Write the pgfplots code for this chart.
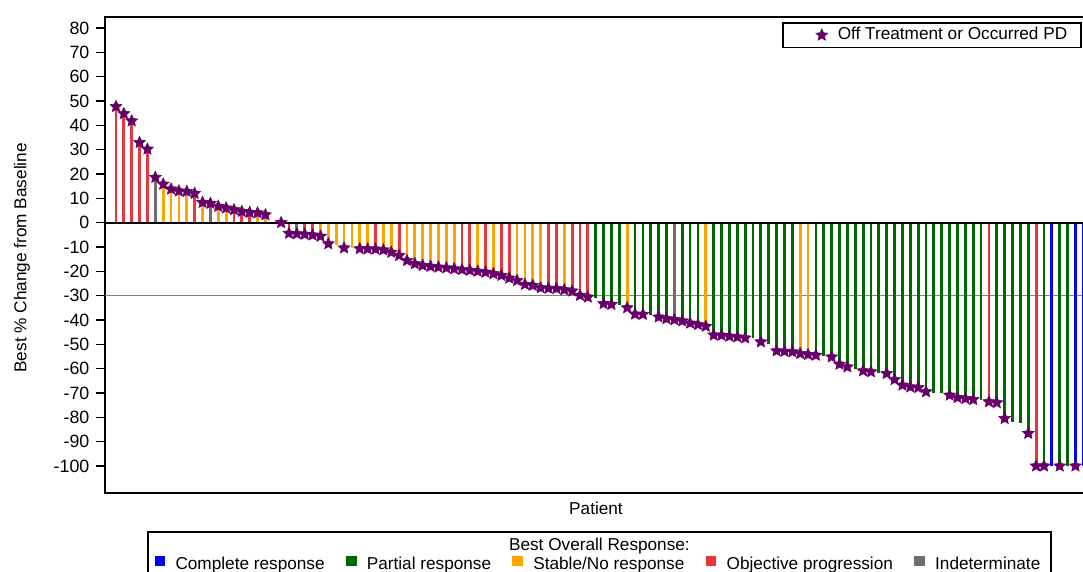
\documentclass[border=0pt]{standalone}
\usepackage{fontspec}
\setmainfont{Liberation Sans}
\usepackage{pgfplots}
\pgfplotsset{compat=1.18}

\definecolor{cBlue}{HTML}{0000FF}
\definecolor{cGreen}{HTML}{006600}
\definecolor{cOrange}{HTML}{FFA500}
\definecolor{cRed}{HTML}{E8373C}
\definecolor{cGray}{HTML}{6E6E6E}
\definecolor{cStar}{HTML}{660066}

\pgfdeclareplotmark{fstar}{%
 \pgfpathmoveto{\pgfqpointpolar{90}{\pgfplotmarksize}}%
 \pgfpathlineto{\pgfqpointpolar{126}{0.47\pgfplotmarksize}}%
 \pgfpathlineto{\pgfqpointpolar{162}{\pgfplotmarksize}}%
 \pgfpathlineto{\pgfqpointpolar{198}{0.47\pgfplotmarksize}}%
 \pgfpathlineto{\pgfqpointpolar{234}{\pgfplotmarksize}}%
 \pgfpathlineto{\pgfqpointpolar{270}{0.47\pgfplotmarksize}}%
 \pgfpathlineto{\pgfqpointpolar{306}{\pgfplotmarksize}}%
 \pgfpathlineto{\pgfqpointpolar{342}{0.47\pgfplotmarksize}}%
 \pgfpathlineto{\pgfqpointpolar{18}{\pgfplotmarksize}}%
 \pgfpathlineto{\pgfqpointpolar{54}{0.47\pgfplotmarksize}}%
 \pgfpathclose
 \pgfusepathqfillstroke}

\newcommand{\chfont}{\fontsize{8.6}{10}\selectfont}

\begin{document}
\begin{tikzpicture}
\begin{axis}[
 scale only axis, width=491pt, height=238pt,
 xmin=-1.4, xmax=123.47, ymin=-111.1, ymax=84.5,
 xtick=\empty,
 ytick={-100,-90,...,80},
 ytick pos=left, tick align=outside, major tick length=4.3pt,
 axis line style={line width=1.2pt},
 every tick/.style={black, line width=0.6pt},
 /pgf/number format/assume math mode=true,
 tick label style={font=\fontsize{8.9}{10}\selectfont},
 ylabel={Best \% Change from Baseline},
 xlabel={Patient},
 label style={font=\chfont},
 ylabel style={at={(axis description cs:-0.0845,0.494)}, anchor=center},
 xlabel style={at={(axis description cs:0.5,-0.0315)}, anchor=center},
 legend columns=5,
 legend image code/.code={\fill[#1] (0pt,-0.3pt) rectangle (4.4pt,4.1pt);},
 legend style={at={(axis description cs:0.5035,-0.0798)}, anchor=north,
   draw=black, line width=1pt, font=\chfont, inner xsep=3.5pt, inner ysep=10.5pt,
   /tikz/every even column/.append style={column sep=8.6pt},
   /tikz/every odd column/.append style={column sep=3.1pt},
   label={[anchor=center,yshift=-7.5pt,font=\chfont]north:{Best Overall Response:}}},
]
\draw[gray, line width=0.7pt] (axis cs:-1.4,-30) -- (axis cs:123.47,-30);
% Objective progression
\addplot[ycomb, cRed, line width=1.4pt, forget plot] coordinates {
(0,47.7) (1,44.8) (2,41.8) (3,32.9) (4,30.2) (10,12.0) (15,5.3) (16,4.6) (17,4.2)
(22,-4.4) (24,-4.8) (25,-5.1) (33,-10.9) (36,-13.5) (44,-19.3) (45,-19.6) (47,-20.4)
(49,-21.7) (50,-22.8) (55,-27.0) (56,-27.1) (58,-28.1) (59,-29.9) (60,-30.6)
(111,-73.6) (117,-100)};
% Indeterminate
\addplot[ycomb, cGray, line width=1.4pt, forget plot] coordinates {
(5,18.6) (12,7.9) (23,-4.6) (71,-39.9)};
% Stable/No response
\addplot[ycomb, cOrange, line width=1.4pt, forget plot] coordinates {
(6,15.8) (7,13.8) (8,13.0) (9,12.8) (11,8.3) (13,6.7) (14,6.0) (18,4.0) (19,3.2)
(26,-5.6) (27,-8.7) (28,-9.2) (29,-10.4) (30,-10.5) (31,-10.7) (32,-10.8) (34,-11.2)
(35,-12.2) (37,-15.6) (38,-16.9) (39,-17.6) (40,-18.0) (41,-18.3) (42,-18.6) (43,-19.0)
(46,-20.0) (48,-21.0) (51,-23.8) (52,-25.4) (53,-25.8) (54,-26.8) (57,-27.6) (65,-35.0)
(75,-42.6) (87,-53.8) (88,-54.2)};
% Complete response
\addplot[ycomb, cBlue, line width=1.4pt, forget plot] coordinates {
(119,-100) (122,-100) (123,-100)};
% Partial response
\addplot[ycomb, cGreen, line width=1.4pt, forget plot] coordinates {
(61,-30.8) (62,-33.3) (63,-33.6) (64,-33.8) (66,-37.6) (67,-37.7) (68,-38.0) (69,-38.8)
(70,-39.5) (72,-40.4) (73,-41.3) (74,-41.9) (76,-46.2) (77,-46.3) (78,-46.7) (79,-47.0)
(80,-47.4) (81,-47.6) (82,-49.0) (83,-50.0) (84,-52.7) (85,-52.9) (86,-53.1) (89,-54.5)
(90,-54.8) (91,-55.2) (92,-58.2) (93,-59.3) (94,-60.0) (95,-60.9) (96,-61.3) (97,-61.6)
(98,-62.0) (99,-64.5) (100,-66.8) (101,-67.5) (102,-67.8) (103,-69.5) (104,-70.0)
(105,-70.2) (106,-70.9) (107,-71.9) (108,-72.3) (109,-72.7) (110,-73.0) (112,-74.0)
(113,-80.5) (114,-81.8) (115,-82.5) (116,-86.6) (118,-100) (120,-100) (121,-100)};
\draw[black, line width=1pt] (axis cs:-1.4,0) -- (axis cs:123.47,0);

\addlegendimage{cBlue}
\addlegendentry{Complete response}
\addlegendimage{cGreen}
\addlegendentry{Partial response}
\addlegendimage{cOrange}
\addlegendentry{Stable/No response}
\addlegendimage{cRed}
\addlegendentry{Objective progression}
\addlegendimage{cGray}
\addlegendentry{Indeterminate}
\end{axis}

\begin{axis}[
 scale only axis, width=491pt, height=238pt,
 xmin=-1.4, xmax=123.47, ymin=-111.1, ymax=84.5,
 hide axis,
 legend image code/.code={\path[draw=none] (0pt,0pt) -- (20.5pt,0pt); \draw[#1, line width=0.3pt] plot coordinates {(14.5pt,0pt)};},
 legend style={at={(rel axis cs:1,1)}, anchor=north east, xshift=-2.5pt, yshift=-2.5pt,
   draw=black, line width=0.8pt, font=\chfont, inner xsep=5pt, inner ysep=0.3pt},
]
\addplot[only marks, mark=fstar, mark size=3.1pt,
  mark options={fill=cStar, draw=cStar, line width=0.3pt}]
coordinates {
(0,47.7) (1,44.8) (2,41.8) (3,32.9) (4,30.2) (5,18.6) (6,15.8) (7,13.8) (8,13.0) (9,12.8)
(10,12.0) (11,8.3) (12,7.9) (13,6.7) (14,6.0) (15,5.3) (16,4.6) (17,4.2) (18,4.0) (19,3.2)
(21,0) (22,-4.4) (23,-4.6) (24,-4.8) (25,-5.1) (26,-5.6) (27,-8.7) (29,-10.4) (31,-10.7)
(32,-10.8) (33,-10.9) (34,-11.2) (35,-12.2) (36,-13.5) (37,-15.6) (38,-16.9) (39,-17.6)
(40,-18.0) (41,-18.3) (42,-18.6) (43,-19.0) (44,-19.3) (45,-19.6) (46,-20.0) (47,-20.4)
(48,-21.0) (49,-21.7) (50,-22.8) (51,-23.8) (52,-25.4) (53,-25.8) (54,-26.8) (55,-27.0)
(56,-27.1) (57,-27.6) (58,-28.1) (59,-29.9) (60,-30.6) (62,-33.3) (63,-33.6) (65,-35.0)
(66,-37.6) (67,-37.7) (69,-38.8) (70,-39.5) (71,-39.9) (72,-40.4) (73,-41.3) (74,-41.9)
(75,-42.6) (76,-46.2) (77,-46.3) (78,-46.7) (79,-47.0) (80,-47.4) (82,-49.0) (84,-52.7)
(85,-52.9) (86,-53.1) (87,-53.8) (88,-54.2) (89,-54.5) (91,-55.2) (92,-58.2) (93,-59.3)
(95,-60.9) (96,-61.3) (98,-62.0) (99,-64.5) (100,-66.8) (101,-67.5) (102,-67.8) (103,-69.5)
(106,-70.9) (107,-71.9) (108,-72.3) (109,-72.7) (111,-73.6) (112,-74.0) (113,-80.5)
(116,-86.6) (117,-100) (118,-100) (120,-100) (122,-100)};
\addlegendentry{Off Treatment or Occurred PD}
\end{axis}
\pgfresetboundingbox
\path[use as bounding box] (-52.5pt,-39.5pt) rectangle (489pt,246.5pt);
\end{tikzpicture}
\end{document}
